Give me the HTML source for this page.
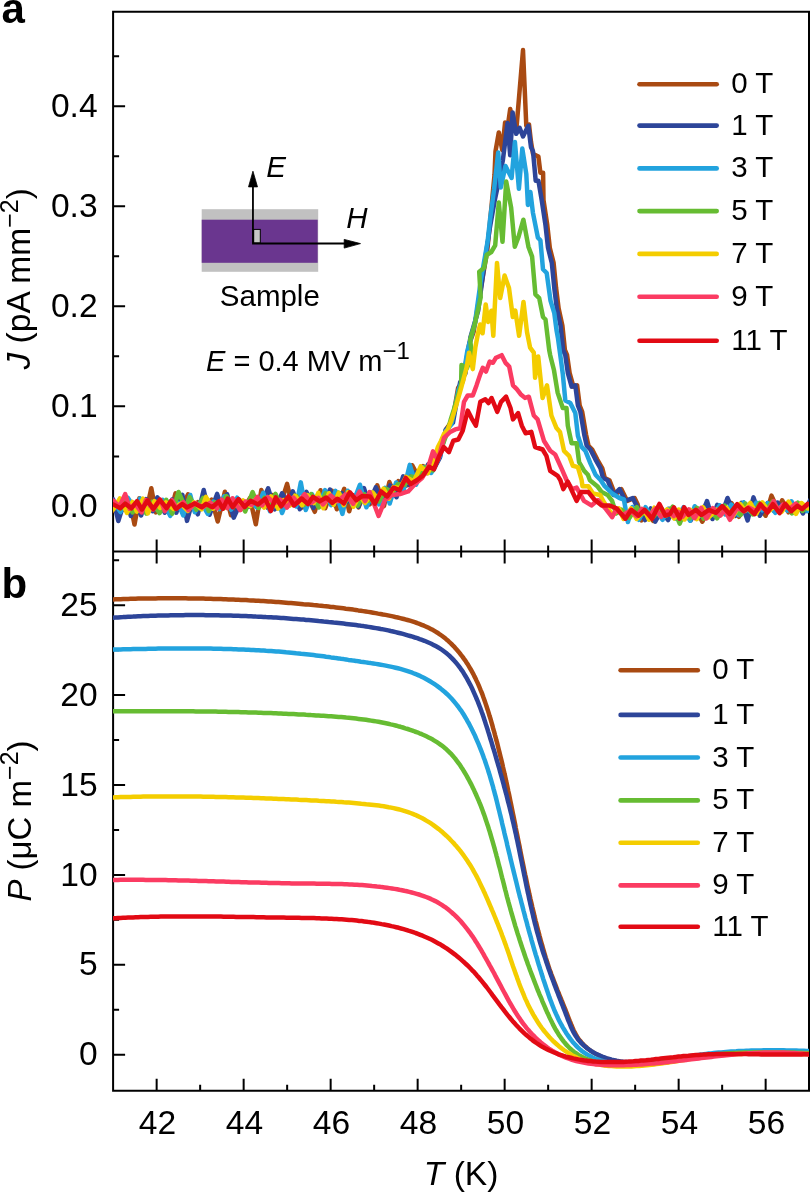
<!DOCTYPE html><html><head><meta charset="utf-8"><style>html,body{margin:0;padding:0;background:#fff;}svg{display:block;will-change:transform;}text{font-family:"Liberation Sans",sans-serif;}</style></head><body>
<svg width="812" height="1193" viewBox="0 0 812 1193">
<rect width="812" height="1193" fill="#fff"/>
<g stroke="#000" stroke-width="2" fill="none" stroke-linecap="butt">
<path d="M113.1 11.8H809V1090.7H113.1Z"/>
<path d="M113.1 551.4H809"/>
<path d="M113.1 506.40h12 M113.1 406.35h12 M113.1 306.30h12 M113.1 206.25h12 M113.1 106.20h12 M113.1 456.38h6 M113.1 356.32h6 M113.1 256.27h6 M113.1 156.23h6 M113.1 56.17h6 M113.1 1054.70h12 M113.1 964.80h12 M113.1 874.90h12 M113.1 785.00h12 M113.1 695.10h12 M113.1 605.20h12 M113.1 1009.75h6 M113.1 919.85h6 M113.1 829.95h6 M113.1 740.05h6 M113.1 650.15h6 M113.1 560.25h6 M156.65 551.4v-12 M156.65 551.4v12 M156.65 1090.7v-12 M200.15 551.4v-6 M200.15 551.4v6 M200.15 1090.7v-6 M243.65 551.4v-12 M243.65 551.4v12 M243.65 1090.7v-12 M287.15 551.4v-6 M287.15 551.4v6 M287.15 1090.7v-6 M330.65 551.4v-12 M330.65 551.4v12 M330.65 1090.7v-12 M374.15 551.4v-6 M374.15 551.4v6 M374.15 1090.7v-6 M417.65 551.4v-12 M417.65 551.4v12 M417.65 1090.7v-12 M461.15 551.4v-6 M461.15 551.4v6 M461.15 1090.7v-6 M504.65 551.4v-12 M504.65 551.4v12 M504.65 1090.7v-12 M548.15 551.4v-6 M548.15 551.4v6 M548.15 1090.7v-6 M591.65 551.4v-12 M591.65 551.4v12 M591.65 1090.7v-12 M635.15 551.4v-6 M635.15 551.4v6 M635.15 1090.7v-6 M678.65 551.4v-12 M678.65 551.4v12 M678.65 1090.7v-12 M722.15 551.4v-6 M722.15 551.4v6 M722.15 1090.7v-6 M765.65 551.4v-12 M765.65 551.4v12 M765.65 1090.7v-12"/>
</g>
<defs><clipPath id="cb"><rect x="113" y="551.4" width="696" height="539.3"/></clipPath><clipPath id="ca"><rect x="113" y="11.8" width="696" height="539.6"/></clipPath></defs>
<g clip-path="url(#cb)" fill="none" stroke-width="4.5" stroke-linejoin="round" stroke-linecap="round">
<path stroke="#A94A12" d="M113.2,599.4 115.6,599.3 118.1,599.3 120.6,599.2 123.1,599.1 125.6,599.0 128.1,598.9 130.6,598.8 133.1,598.8 135.6,598.7 138.1,598.6 140.6,598.6 143.1,598.5 145.6,598.5 148.1,598.5 150.6,598.4 153.2,598.4 155.7,598.4 158.2,598.3 160.7,598.3 163.2,598.3 165.7,598.3 168.2,598.3 170.7,598.3 173.2,598.3 175.7,598.3 178.2,598.3 180.7,598.3 183.2,598.3 185.8,598.3 188.3,598.4 190.8,598.4 193.3,598.4 195.8,598.5 198.3,598.5 200.8,598.6 203.3,598.6 205.8,598.7 208.3,598.7 210.8,598.8 213.3,598.9 215.8,598.9 218.4,599.0 220.9,599.1 223.4,599.2 225.9,599.3 228.4,599.4 230.9,599.5 233.4,599.6 235.9,599.7 238.4,599.8 240.9,599.9 243.4,600.0 245.9,600.1 248.4,600.3 250.9,600.4 253.4,600.5 255.9,600.7 258.4,600.8 260.9,601.0 263.4,601.1 265.9,601.3 268.4,601.5 270.9,601.6 273.4,601.8 276.0,602.0 278.5,602.1 281.0,602.3 283.5,602.5 286.0,602.7 288.5,602.9 291.0,603.1 293.5,603.3 296.0,603.5 298.5,603.7 301.0,603.9 303.5,604.2 305.9,604.4 308.4,604.6 310.9,604.8 313.4,605.1 315.9,605.3 318.4,605.6 320.9,605.8 323.4,606.1 325.9,606.3 328.4,606.6 330.9,606.9 333.4,607.1 335.9,607.4 338.4,607.7 340.9,608.0 343.4,608.3 345.8,608.7 348.3,609.0 350.8,609.3 353.3,609.6 355.8,610.0 358.3,610.4 360.7,610.7 363.2,611.1 365.7,611.5 368.2,611.9 370.7,612.3 373.1,612.7 375.6,613.1 378.1,613.6 380.5,614.0 383.0,614.5 385.5,614.9 387.9,615.4 390.4,615.9 392.8,616.4 395.3,617.0 397.7,617.5 400.2,618.1 402.6,618.7 405.0,619.3 407.5,620.0 409.9,620.7 412.3,621.4 414.7,622.2 417.0,623.0 419.4,623.9 421.7,624.8 424.0,625.7 426.3,626.7 428.6,627.8 430.8,628.9 433.1,630.1 435.2,631.4 437.4,632.7 439.4,634.1 441.5,635.5 443.5,637.0 445.5,638.6 447.4,640.2 449.2,641.9 451.1,643.6 452.8,645.4 454.6,647.2 456.2,649.1 457.9,651.0 459.5,652.9 461.0,654.9 462.6,656.9 464.0,658.9 465.5,660.9 466.8,663.0 468.2,665.1 469.5,667.3 470.8,669.5 472.0,671.6 473.2,673.8 474.3,676.1 475.5,678.3 476.5,680.6 477.6,682.9 478.6,685.1 479.6,687.5 480.5,689.8 481.5,692.1 482.4,694.4 483.2,696.8 484.1,699.2 484.9,701.5 485.7,703.9 486.5,706.3 487.3,708.7 488.1,711.1 488.8,713.4 489.5,715.8 490.3,718.2 491.0,720.7 491.7,723.1 492.4,725.5 493.0,727.9 493.7,730.3 494.4,732.7 495.0,735.1 495.7,737.6 496.3,740.0 497.0,742.4 497.6,744.8 498.2,747.3 498.8,749.7 499.4,752.1 500.0,754.6 500.6,757.0 501.2,759.4 501.8,761.9 502.4,764.3 502.9,766.8 503.5,769.2 504.1,771.7 504.6,774.1 505.2,776.6 505.7,779.0 506.2,781.4 506.8,783.9 507.3,786.3 507.8,788.8 508.3,791.3 508.9,793.7 509.4,796.2 509.9,798.6 510.4,801.1 510.9,803.5 511.4,806.0 511.9,808.4 512.4,810.9 512.9,813.4 513.4,815.8 513.9,818.3 514.4,820.7 514.9,823.2 515.4,825.7 515.8,828.1 516.3,830.6 516.8,833.0 517.3,835.5 517.8,838.0 518.3,840.4 518.8,842.9 519.3,845.3 519.8,847.8 520.2,850.3 520.7,852.7 521.2,855.2 521.7,857.6 522.2,860.1 522.7,862.5 523.2,865.0 523.7,867.5 524.2,869.9 524.7,872.4 525.2,874.8 525.8,877.3 526.3,879.7 526.8,882.2 527.3,884.6 527.8,887.1 528.4,889.5 528.9,892.0 529.4,894.4 530.0,896.9 530.5,899.3 531.1,901.8 531.7,904.2 532.2,906.7 532.8,909.1 533.4,911.6 534.0,914.0 534.5,916.4 535.1,918.9 535.7,921.3 536.4,923.7 537.0,926.2 537.6,928.6 538.2,931.0 538.9,933.4 539.5,935.9 540.2,938.3 540.8,940.7 541.5,943.1 542.2,945.5 542.9,948.0 543.6,950.4 544.3,952.8 545.0,955.2 545.7,957.6 546.5,960.0 547.2,962.3 548.0,964.7 548.8,967.1 549.6,969.5 550.5,971.8 551.3,974.2 552.2,976.6 553.1,978.9 554.0,981.2 554.9,983.6 555.8,985.9 556.7,988.3 557.6,990.6 558.6,992.9 559.5,995.2 560.5,997.6 561.4,999.9 562.4,1002.2 563.3,1004.5 564.2,1006.8 565.2,1009.2 566.1,1011.5 567.0,1013.8 567.9,1016.2 568.8,1018.5 569.7,1020.9 570.7,1023.2 571.6,1025.5 572.6,1027.8 573.6,1030.1 574.7,1032.4 575.9,1034.6 577.1,1036.7 578.5,1038.8 580.1,1040.8 581.7,1042.7 583.4,1044.6 585.2,1046.3 587.1,1048.0 589.0,1049.5 591.1,1051.0 593.2,1052.4 595.3,1053.6 597.5,1054.8 599.8,1055.9 602.1,1057.0 604.4,1057.9 606.8,1058.7 609.2,1059.5 611.6,1060.1 614.0,1060.7 616.5,1061.3 618.9,1061.7 621.4,1062.1 623.9,1062.4 626.4,1062.6 628.9,1062.8 631.4,1063.0 633.9,1063.0 636.4,1063.1 638.9,1063.1 641.4,1063.0 643.9,1062.9 646.4,1062.8 648.9,1062.6 651.5,1062.5 653.9,1062.2 656.4,1062.0 658.9,1061.7 661.4,1061.5 663.9,1061.2 666.4,1060.8 668.9,1060.5 671.4,1060.2 673.9,1059.8 676.3,1059.5 678.8,1059.1 681.3,1058.8 683.8,1058.4 686.3,1058.1 688.8,1057.7 691.2,1057.4 693.7,1057.0 696.2,1056.7 698.7,1056.4 701.2,1056.1 703.7,1055.8 706.2,1055.6 708.7,1055.4 711.2,1055.1 713.7,1054.9 716.2,1054.7 718.7,1054.6 721.2,1054.4 723.7,1054.3 726.2,1054.1 728.7,1054.0 731.2,1053.9 733.7,1053.8 736.2,1053.7 738.7,1053.6 741.2,1053.6 743.7,1053.5 746.2,1053.5 748.8,1053.4 751.3,1053.4 753.8,1053.4 756.3,1053.4 758.8,1053.4 761.3,1053.4 763.8,1053.4 766.3,1053.4 768.8,1053.4 771.3,1053.4 773.8,1053.4 776.3,1053.5 778.8,1053.5 781.4,1053.5 783.9,1053.6 786.4,1053.6 788.9,1053.6 791.4,1053.7 793.9,1053.7 796.4,1053.8 798.9,1053.8 801.4,1053.8 803.9,1053.9 806.4,1053.9 808.9,1053.9"/>
<path stroke="#2D4599" d="M113.2,617.7 115.5,617.5 118.0,617.4 120.5,617.2 123.0,617.1 125.5,616.9 128.0,616.8 130.5,616.7 133.0,616.6 135.5,616.4 138.1,616.3 140.6,616.2 143.1,616.1 145.6,616.0 148.1,615.9 150.6,615.8 153.1,615.8 155.6,615.7 158.1,615.6 160.6,615.5 163.1,615.5 165.7,615.4 168.2,615.4 170.7,615.3 173.2,615.3 175.7,615.2 178.2,615.2 180.7,615.2 183.2,615.2 185.7,615.1 188.2,615.1 190.8,615.1 193.3,615.1 195.8,615.1 198.3,615.1 200.8,615.1 203.3,615.1 205.8,615.2 208.3,615.2 210.8,615.2 213.3,615.2 215.9,615.3 218.4,615.3 220.9,615.4 223.4,615.4 225.9,615.5 228.4,615.5 230.9,615.6 233.4,615.7 235.9,615.8 238.4,615.8 241.0,615.9 243.5,616.0 246.0,616.1 248.5,616.2 251.0,616.3 253.5,616.4 256.0,616.6 258.5,616.7 261.0,616.8 263.5,616.9 266.0,617.1 268.5,617.2 271.0,617.3 273.5,617.5 276.1,617.6 278.6,617.8 281.1,618.0 283.6,618.1 286.1,618.3 288.6,618.5 291.1,618.7 293.6,618.9 296.1,619.0 298.6,619.2 301.1,619.4 303.6,619.6 306.1,619.9 308.6,620.1 311.1,620.3 313.6,620.5 316.1,620.7 318.6,621.0 321.1,621.2 323.6,621.5 326.1,621.7 328.6,622.0 331.1,622.2 333.6,622.5 336.1,622.7 338.6,623.0 341.1,623.3 343.6,623.6 346.1,623.9 348.6,624.2 351.0,624.5 353.5,624.8 356.0,625.1 358.5,625.4 361.0,625.8 363.5,626.1 366.0,626.5 368.5,626.9 370.9,627.3 373.4,627.7 375.9,628.1 378.4,628.5 380.8,629.0 383.3,629.4 385.7,629.9 388.2,630.4 390.7,631.0 393.1,631.5 395.6,632.1 398.0,632.7 400.4,633.3 402.9,633.9 405.3,634.6 407.7,635.3 410.1,636.0 412.5,636.7 414.9,637.5 417.3,638.2 419.7,639.1 422.0,639.9 424.4,640.8 426.7,641.8 429.0,642.8 431.3,643.8 433.5,644.9 435.7,646.1 437.9,647.3 440.1,648.6 442.2,650.0 444.2,651.5 446.2,653.0 448.1,654.6 450.0,656.3 451.8,658.1 453.5,659.9 455.2,661.7 456.8,663.6 458.4,665.6 459.9,667.6 461.3,669.7 462.8,671.7 464.1,673.9 465.4,676.0 466.7,678.2 467.9,680.4 469.1,682.6 470.3,684.8 471.4,687.0 472.5,689.3 473.5,691.6 474.5,693.9 475.5,696.2 476.5,698.5 477.5,700.8 478.4,703.1 479.3,705.5 480.2,707.8 481.1,710.2 481.9,712.5 482.8,714.9 483.6,717.3 484.4,719.7 485.2,722.1 485.9,724.4 486.7,726.8 487.5,729.2 488.2,731.6 489.0,734.0 489.7,736.4 490.4,738.8 491.2,741.2 491.9,743.6 492.6,746.0 493.3,748.4 494.1,750.8 494.8,753.2 495.5,755.6 496.2,758.1 496.9,760.5 497.6,762.9 498.3,765.3 499.0,767.7 499.7,770.1 500.3,772.5 501.0,775.0 501.7,777.4 502.4,779.8 503.0,782.2 503.7,784.6 504.3,787.1 505.0,789.5 505.6,791.9 506.3,794.3 506.9,796.8 507.5,799.2 508.1,801.6 508.8,804.1 509.4,806.5 510.0,808.9 510.6,811.4 511.2,813.8 511.8,816.3 512.3,818.7 512.9,821.1 513.5,823.6 514.0,826.0 514.6,828.5 515.1,830.9 515.7,833.4 516.2,835.8 516.7,838.3 517.3,840.7 517.8,843.2 518.3,845.7 518.8,848.1 519.3,850.6 519.8,853.0 520.3,855.5 520.8,858.0 521.3,860.4 521.8,862.9 522.3,865.3 522.8,867.8 523.3,870.3 523.8,872.7 524.3,875.2 524.8,877.6 525.3,880.1 525.8,882.6 526.3,885.0 526.8,887.5 527.3,889.9 527.8,892.4 528.4,894.8 528.9,897.3 529.4,899.8 530.0,902.2 530.5,904.7 531.1,907.1 531.6,909.5 532.2,912.0 532.8,914.4 533.3,916.9 533.9,919.3 534.5,921.8 535.1,924.2 535.8,926.6 536.4,929.1 537.0,931.5 537.7,933.9 538.4,936.3 539.0,938.7 539.7,941.2 540.4,943.6 541.2,946.0 541.9,948.4 542.6,950.8 543.4,953.2 544.2,955.5 545.0,957.9 545.8,960.3 546.6,962.7 547.4,965.1 548.2,967.4 549.0,969.8 549.9,972.2 550.7,974.5 551.6,976.9 552.5,979.2 553.4,981.6 554.2,983.9 555.1,986.3 556.0,988.6 556.9,991.0 557.8,993.3 558.7,995.7 559.6,998.0 560.5,1000.3 561.4,1002.7 562.4,1005.0 563.3,1007.4 564.2,1009.7 565.1,1012.0 566.0,1014.4 566.9,1016.7 567.8,1019.1 568.7,1021.4 569.7,1023.7 570.6,1026.0 571.6,1028.3 572.7,1030.6 573.9,1032.8 575.1,1035.0 576.5,1037.1 577.9,1039.2 579.5,1041.1 581.2,1043.0 583.0,1044.7 584.9,1046.4 586.8,1048.0 588.9,1049.5 590.9,1050.9 593.1,1052.2 595.3,1053.4 597.5,1054.5 599.8,1055.6 602.1,1056.6 604.4,1057.4 606.8,1058.3 609.2,1059.0 611.6,1059.7 614.1,1060.2 616.5,1060.8 619.0,1061.2 621.5,1061.6 624.0,1061.9 626.5,1062.1 629.0,1062.3 631.5,1062.4 634.0,1062.5 636.5,1062.6 639.0,1062.5 641.5,1062.5 644.0,1062.4 646.5,1062.3 649.1,1062.1 651.6,1061.9 654.1,1061.7 656.6,1061.4 659.0,1061.1 661.5,1060.8 664.0,1060.5 666.5,1060.2 669.0,1059.9 671.5,1059.5 674.0,1059.2 676.5,1058.8 678.9,1058.4 681.4,1058.1 683.9,1057.7 686.4,1057.3 688.9,1057.0 691.4,1056.6 693.9,1056.3 696.3,1056.0 698.8,1055.7 701.3,1055.4 703.8,1055.1 706.3,1054.8 708.8,1054.6 711.3,1054.4 713.8,1054.2 716.3,1054.0 718.8,1053.8 721.3,1053.7 723.8,1053.6 726.4,1053.5 728.9,1053.3 731.4,1053.3 733.9,1053.2 736.4,1053.1 738.9,1053.1 741.4,1053.0 743.9,1053.0 746.4,1053.0 748.9,1053.0 751.5,1052.9 754.0,1052.9 756.5,1053.0 759.0,1053.0 761.5,1053.0 764.0,1053.0 766.5,1053.0 769.0,1053.1 771.5,1053.1 774.0,1053.1 776.6,1053.2 779.1,1053.2 781.6,1053.2 784.1,1053.3 786.6,1053.3 789.1,1053.3 791.6,1053.3 794.1,1053.3 796.6,1053.4 799.1,1053.4 801.7,1053.4 804.2,1053.4 806.7,1053.4 809.0,1053.3"/>
<path stroke="#22A3DE" d="M113.2,649.6 115.5,649.5 118.0,649.5 120.6,649.4 123.1,649.3 125.6,649.3 128.1,649.2 130.6,649.2 133.1,649.1 135.6,649.1 138.1,649.0 140.6,648.9 143.1,648.9 145.7,648.9 148.2,648.8 150.7,648.8 153.2,648.7 155.7,648.7 158.2,648.6 160.7,648.6 163.2,648.6 165.7,648.6 168.3,648.5 170.8,648.5 173.3,648.5 175.8,648.5 178.3,648.5 180.8,648.5 183.3,648.4 185.8,648.4 188.3,648.4 190.8,648.5 193.4,648.5 195.9,648.5 198.4,648.5 200.9,648.5 203.4,648.5 205.9,648.6 208.4,648.6 210.9,648.6 213.4,648.7 216.0,648.7 218.5,648.8 221.0,648.8 223.5,648.9 226.0,649.0 228.5,649.0 231.0,649.1 233.5,649.2 236.0,649.3 238.5,649.4 241.0,649.5 243.6,649.6 246.1,649.7 248.6,649.8 251.1,649.9 253.6,650.0 256.1,650.2 258.6,650.3 261.1,650.5 263.6,650.6 266.1,650.8 268.6,650.9 271.1,651.1 273.6,651.3 276.1,651.5 278.6,651.6 281.1,651.8 283.6,652.0 286.1,652.3 288.7,652.5 291.2,652.7 293.7,652.9 296.2,653.2 298.6,653.4 301.1,653.7 303.6,653.9 306.1,654.2 308.6,654.5 311.1,654.8 313.6,655.1 316.1,655.4 318.6,655.7 321.1,656.0 323.6,656.3 326.1,656.7 328.6,657.0 331.0,657.4 333.5,657.7 336.0,658.1 338.5,658.4 341.0,658.8 343.5,659.1 346.0,659.5 348.4,659.9 350.9,660.2 353.4,660.6 355.9,660.9 358.4,661.3 360.9,661.7 363.3,662.0 365.8,662.4 368.3,662.8 370.8,663.1 373.3,663.5 375.8,663.9 378.2,664.3 380.7,664.7 383.2,665.1 385.7,665.6 388.1,666.1 390.6,666.6 393.0,667.1 395.5,667.7 397.9,668.3 400.4,668.9 402.8,669.6 405.2,670.3 407.6,671.1 409.9,671.9 412.3,672.7 414.6,673.7 417.0,674.6 419.3,675.6 421.5,676.7 423.8,677.8 426.0,679.0 428.2,680.2 430.4,681.5 432.5,682.8 434.6,684.2 436.7,685.6 438.7,687.1 440.7,688.6 442.6,690.2 444.5,691.8 446.4,693.5 448.2,695.2 450.0,697.0 451.7,698.8 453.4,700.7 455.0,702.6 456.6,704.6 458.1,706.5 459.6,708.6 461.1,710.6 462.5,712.7 463.8,714.8 465.1,717.0 466.4,719.1 467.6,721.3 468.9,723.5 470.0,725.7 471.2,728.0 472.3,730.2 473.4,732.5 474.5,734.7 475.5,737.0 476.5,739.3 477.5,741.6 478.5,743.9 479.5,746.3 480.4,748.6 481.3,750.9 482.2,753.3 483.1,755.6 483.9,758.0 484.8,760.3 485.6,762.7 486.4,765.1 487.2,767.5 488.0,769.9 488.7,772.3 489.5,774.7 490.2,777.1 490.9,779.5 491.6,781.9 492.3,784.3 493.0,786.7 493.6,789.1 494.3,791.6 494.9,794.0 495.6,796.4 496.2,798.9 496.8,801.3 497.4,803.7 498.0,806.2 498.6,808.6 499.2,811.0 499.8,813.5 500.4,815.9 501.0,818.4 501.6,820.8 502.1,823.2 502.7,825.7 503.3,828.1 503.9,830.6 504.4,833.0 505.0,835.5 505.6,837.9 506.2,840.3 506.8,842.8 507.3,845.2 507.9,847.7 508.5,850.1 509.1,852.6 509.7,855.0 510.2,857.4 510.8,859.9 511.4,862.3 512.0,864.8 512.6,867.2 513.2,869.6 513.8,872.1 514.4,874.5 515.0,877.0 515.6,879.4 516.2,881.8 516.8,884.3 517.4,886.7 518.0,889.2 518.6,891.6 519.2,894.0 519.8,896.5 520.5,898.9 521.1,901.3 521.7,903.7 522.4,906.2 523.0,908.6 523.6,911.0 524.3,913.5 524.9,915.9 525.5,918.3 526.2,920.7 526.9,923.2 527.5,925.6 528.2,928.0 528.8,930.4 529.5,932.9 530.2,935.3 530.9,937.7 531.5,940.1 532.2,942.5 532.9,944.9 533.6,947.3 534.3,949.8 535.0,952.2 535.7,954.6 536.5,957.0 537.2,959.4 537.9,961.8 538.6,964.2 539.4,966.6 540.1,969.0 540.9,971.4 541.6,973.8 542.4,976.2 543.1,978.6 543.9,981.0 544.7,983.3 545.5,985.7 546.3,988.1 547.1,990.5 547.9,992.9 548.7,995.2 549.5,997.6 550.4,1000.0 551.3,1002.3 552.2,1004.7 553.1,1007.0 554.0,1009.3 555.0,1011.6 556.0,1013.9 557.1,1016.2 558.1,1018.5 559.2,1020.7 560.4,1023.0 561.6,1025.2 562.8,1027.4 564.1,1029.5 565.4,1031.7 566.7,1033.8 568.2,1035.9 569.6,1037.9 571.1,1039.9 572.7,1041.9 574.4,1043.8 576.1,1045.6 577.8,1047.4 579.7,1049.1 581.6,1050.7 583.6,1052.2 585.7,1053.6 587.8,1054.9 590.0,1056.1 592.3,1057.3 594.6,1058.3 596.9,1059.2 599.3,1060.0 601.7,1060.8 604.1,1061.4 606.5,1062.0 609.0,1062.5 611.5,1062.9 614.0,1063.2 616.5,1063.4 619.0,1063.6 621.5,1063.8 624.0,1063.9 626.5,1063.9 629.0,1063.9 631.5,1063.8 634.0,1063.7 636.5,1063.6 639.0,1063.4 641.5,1063.2 644.0,1063.0 646.5,1062.7 649.0,1062.4 651.5,1062.1 654.0,1061.8 656.5,1061.5 659.0,1061.1 661.5,1060.7 664.0,1060.4 666.4,1060.0 668.9,1059.6 671.4,1059.2 673.9,1058.8 676.4,1058.4 678.8,1058.0 681.3,1057.6 683.8,1057.2 686.3,1056.8 688.7,1056.4 691.2,1056.0 693.7,1055.6 696.2,1055.2 698.7,1054.9 701.2,1054.6 703.7,1054.2 706.2,1053.9 708.6,1053.6 711.1,1053.4 713.6,1053.1 716.1,1052.8 718.6,1052.6 721.1,1052.4 723.6,1052.2 726.1,1052.0 728.6,1051.8 731.1,1051.6 733.7,1051.4 736.2,1051.3 738.7,1051.1 741.2,1051.0 743.7,1050.9 746.2,1050.8 748.7,1050.7 751.2,1050.6 753.7,1050.5 756.2,1050.5 758.7,1050.4 761.2,1050.4 763.8,1050.3 766.3,1050.3 768.8,1050.3 771.3,1050.3 773.8,1050.3 776.3,1050.3 778.8,1050.3 781.3,1050.3 783.8,1050.3 786.4,1050.4 788.9,1050.4 791.4,1050.5 793.9,1050.5 796.4,1050.6 798.9,1050.7 801.4,1050.8 803.9,1050.8 806.4,1050.9 808.9,1051.0"/>
<path stroke="#66BC32" d="M113.2,711.3 115.5,711.3 118.0,711.3 120.5,711.3 123.0,711.2 125.5,711.2 128.0,711.2 130.5,711.2 133.0,711.2 135.5,711.2 138.0,711.2 140.6,711.2 143.1,711.2 145.6,711.2 148.1,711.2 150.6,711.2 153.1,711.2 155.6,711.2 158.1,711.2 160.6,711.2 163.1,711.2 165.6,711.2 168.2,711.2 170.7,711.2 173.2,711.2 175.7,711.2 178.2,711.2 180.7,711.2 183.2,711.3 185.7,711.3 188.2,711.3 190.7,711.3 193.2,711.3 195.8,711.4 198.3,711.4 200.8,711.4 203.3,711.5 205.8,711.5 208.3,711.5 210.8,711.6 213.3,711.6 215.8,711.6 218.3,711.7 220.8,711.7 223.4,711.8 225.9,711.8 228.4,711.9 230.9,711.9 233.4,712.0 235.9,712.0 238.4,712.1 240.9,712.2 243.4,712.2 245.9,712.3 248.4,712.4 251.0,712.5 253.5,712.5 256.0,712.6 258.5,712.7 261.0,712.8 263.5,712.9 266.0,712.9 268.5,713.0 271.0,713.1 273.5,713.2 276.0,713.3 278.5,713.4 281.0,713.5 283.5,713.7 286.1,713.8 288.6,713.9 291.1,714.0 293.6,714.1 296.1,714.2 298.6,714.4 301.1,714.5 303.6,714.6 306.1,714.8 308.6,714.9 311.1,715.1 313.6,715.2 316.1,715.4 318.6,715.5 321.1,715.7 323.6,715.8 326.1,716.0 328.6,716.2 331.1,716.3 333.6,716.5 336.2,716.7 338.7,716.9 341.2,717.1 343.7,717.3 346.2,717.6 348.7,717.8 351.1,718.0 353.6,718.3 356.1,718.6 358.6,718.9 361.1,719.2 363.6,719.5 366.1,719.8 368.6,720.2 371.1,720.6 373.5,721.0 376.0,721.4 378.5,721.8 380.9,722.3 383.4,722.8 385.9,723.3 388.3,723.8 390.8,724.4 393.2,724.9 395.6,725.5 398.1,726.2 400.5,726.8 402.9,727.5 405.3,728.3 407.7,729.0 410.1,729.8 412.5,730.6 414.8,731.5 417.2,732.3 419.5,733.3 421.8,734.2 424.1,735.2 426.4,736.3 428.6,737.4 430.9,738.6 433.1,739.8 435.2,741.1 437.3,742.4 439.4,743.8 441.5,745.3 443.4,746.8 445.4,748.4 447.2,750.1 449.0,751.8 450.8,753.6 452.5,755.5 454.1,757.4 455.7,759.3 457.2,761.3 458.7,763.3 460.2,765.4 461.5,767.5 462.9,769.6 464.2,771.7 465.5,773.9 466.8,776.1 468.0,778.3 469.2,780.5 470.3,782.7 471.5,784.9 472.6,787.2 473.7,789.4 474.7,791.7 475.8,794.0 476.8,796.3 477.8,798.6 478.8,800.9 479.7,803.2 480.7,805.5 481.6,807.9 482.5,810.2 483.3,812.6 484.2,814.9 485.0,817.3 485.8,819.7 486.6,822.1 487.4,824.4 488.2,826.8 488.9,829.2 489.7,831.6 490.4,834.0 491.1,836.4 491.8,838.8 492.5,841.2 493.2,843.7 493.9,846.1 494.6,848.5 495.2,850.9 495.9,853.3 496.5,855.8 497.2,858.2 497.8,860.6 498.4,863.1 499.0,865.5 499.7,867.9 500.3,870.3 500.9,872.8 501.5,875.2 502.1,877.6 502.8,880.1 503.4,882.5 504.0,884.9 504.6,887.4 505.2,889.8 505.9,892.2 506.5,894.7 507.1,897.1 507.8,899.5 508.4,901.9 509.1,904.3 509.8,906.8 510.4,909.2 511.1,911.6 511.8,914.0 512.5,916.4 513.2,918.8 513.9,921.2 514.6,923.6 515.3,926.1 516.1,928.5 516.8,930.9 517.5,933.2 518.3,935.6 519.1,938.0 519.8,940.4 520.6,942.8 521.4,945.2 522.2,947.6 523.0,950.0 523.8,952.3 524.6,954.7 525.4,957.1 526.2,959.4 527.1,961.8 527.9,964.2 528.8,966.5 529.6,968.9 530.5,971.2 531.4,973.6 532.3,975.9 533.2,978.3 534.1,980.6 535.0,983.0 535.9,985.3 536.8,987.6 537.7,990.0 538.7,992.3 539.6,994.6 540.6,996.9 541.6,999.2 542.5,1001.6 543.5,1003.9 544.5,1006.2 545.5,1008.5 546.5,1010.8 547.5,1013.1 548.6,1015.3 549.6,1017.6 550.7,1019.9 551.8,1022.1 552.9,1024.4 554.1,1026.6 555.3,1028.8 556.6,1031.0 557.9,1033.1 559.2,1035.3 560.6,1037.3 562.1,1039.4 563.6,1041.4 565.2,1043.3 566.8,1045.2 568.6,1047.0 570.4,1048.8 572.3,1050.4 574.2,1052.0 576.3,1053.4 578.4,1054.8 580.5,1056.1 582.7,1057.2 585.0,1058.3 587.3,1059.3 589.7,1060.2 592.0,1061.0 594.4,1061.8 596.8,1062.4 599.3,1063.0 601.7,1063.6 604.2,1064.0 606.7,1064.4 609.2,1064.8 611.7,1065.1 614.2,1065.3 616.7,1065.5 619.2,1065.6 621.7,1065.7 624.2,1065.8 626.7,1065.8 629.2,1065.7 631.7,1065.6 634.2,1065.5 636.7,1065.4 639.2,1065.2 641.7,1065.0 644.2,1064.7 646.7,1064.5 649.2,1064.2 651.7,1063.9 654.2,1063.5 656.7,1063.2 659.1,1062.8 661.6,1062.4 664.1,1062.0 666.6,1061.6 669.1,1061.2 671.5,1060.8 674.0,1060.4 676.5,1059.9 678.9,1059.5 681.4,1059.1 683.9,1058.7 686.4,1058.3 688.8,1057.9 691.3,1057.5 693.8,1057.1 696.3,1056.7 698.8,1056.3 701.2,1056.0 703.7,1055.7 706.2,1055.4 708.7,1055.1 711.2,1054.8 713.7,1054.5 716.2,1054.3 718.7,1054.1 721.2,1053.9 723.7,1053.7 726.2,1053.5 728.7,1053.3 731.2,1053.2 733.7,1053.0 736.2,1052.9 738.7,1052.8 741.2,1052.7 743.8,1052.6 746.3,1052.5 748.8,1052.4 751.3,1052.4 753.8,1052.3 756.3,1052.3 758.8,1052.3 761.3,1052.2 763.8,1052.2 766.3,1052.2 768.8,1052.2 771.4,1052.2 773.9,1052.3 776.4,1052.3 778.9,1052.3 781.4,1052.3 783.9,1052.4 786.4,1052.4 788.9,1052.5 791.4,1052.5 793.9,1052.6 796.4,1052.7 798.9,1052.7 801.5,1052.8 804.0,1052.9 806.5,1053.0 809.0,1053.0"/>
<path stroke="#F4CD00" d="M113.2,797.4 115.5,797.3 118.0,797.2 120.5,797.1 123.0,797.1 125.5,797.0 128.0,796.9 130.6,796.9 133.1,796.8 135.6,796.8 138.1,796.7 140.6,796.7 143.1,796.6 145.6,796.6 148.1,796.6 150.6,796.5 153.1,796.5 155.7,796.5 158.2,796.5 160.7,796.5 163.2,796.4 165.7,796.4 168.2,796.4 170.7,796.4 173.2,796.4 175.7,796.4 178.2,796.4 180.8,796.4 183.3,796.4 185.8,796.5 188.3,796.5 190.8,796.5 193.3,796.5 195.8,796.6 198.3,796.6 200.8,796.6 203.3,796.7 205.9,796.7 208.4,796.7 210.9,796.8 213.4,796.8 215.9,796.9 218.4,796.9 220.9,797.0 223.4,797.0 225.9,797.1 228.4,797.2 231.0,797.2 233.5,797.3 236.0,797.4 238.5,797.4 241.0,797.5 243.5,797.6 246.0,797.7 248.5,797.7 251.0,797.8 253.5,797.9 256.0,798.0 258.5,798.1 261.1,798.2 263.6,798.3 266.1,798.4 268.6,798.5 271.1,798.6 273.6,798.7 276.1,798.8 278.6,798.9 281.1,799.0 283.6,799.1 286.1,799.2 288.6,799.3 291.2,799.4 293.7,799.5 296.2,799.6 298.7,799.8 301.2,799.9 303.7,800.0 306.2,800.1 308.7,800.2 311.2,800.4 313.7,800.5 316.2,800.6 318.7,800.8 321.2,800.9 323.7,801.0 326.3,801.2 328.8,801.3 331.3,801.4 333.8,801.6 336.3,801.8 338.8,801.9 341.3,802.1 343.8,802.3 346.3,802.4 348.8,802.6 351.3,802.8 353.8,803.0 356.3,803.2 358.8,803.4 361.3,803.7 363.8,803.9 366.3,804.2 368.8,804.4 371.3,804.7 373.8,805.0 376.3,805.3 378.8,805.6 381.3,805.9 383.7,806.3 386.2,806.7 388.7,807.2 391.2,807.6 393.6,808.1 396.1,808.7 398.5,809.3 400.9,809.9 403.3,810.6 405.7,811.3 408.1,812.1 410.5,813.0 412.8,813.9 415.1,814.8 417.4,815.9 419.7,817.0 421.9,818.1 424.1,819.3 426.3,820.6 428.5,821.9 430.6,823.2 432.7,824.6 434.7,826.1 436.7,827.6 438.7,829.1 440.7,830.7 442.6,832.3 444.4,834.0 446.3,835.7 448.1,837.4 449.9,839.2 451.6,841.0 453.4,842.8 455.0,844.7 456.7,846.6 458.3,848.5 459.9,850.4 461.4,852.4 462.9,854.4 464.4,856.5 465.8,858.5 467.2,860.6 468.6,862.7 470.0,864.8 471.3,866.9 472.6,869.1 473.8,871.3 475.0,873.5 476.2,875.7 477.4,877.9 478.5,880.1 479.6,882.4 480.7,884.7 481.8,886.9 482.9,889.2 483.9,891.5 485.0,893.8 486.0,896.1 487.0,898.4 488.0,900.7 489.0,903.0 490.0,905.3 491.0,907.6 491.9,909.9 492.9,912.2 493.9,914.5 494.8,916.8 495.8,919.2 496.7,921.5 497.7,923.8 498.6,926.1 499.5,928.5 500.5,930.8 501.4,933.2 502.2,935.5 503.1,937.9 504.0,940.2 504.8,942.6 505.7,944.9 506.5,947.3 507.4,949.7 508.2,952.0 509.0,954.4 509.8,956.8 510.6,959.2 511.4,961.5 512.2,963.9 513.0,966.3 513.9,968.7 514.7,971.0 515.5,973.4 516.4,975.8 517.2,978.1 518.1,980.5 518.9,982.8 519.8,985.2 520.7,987.5 521.7,989.9 522.6,992.2 523.6,994.5 524.5,996.8 525.5,999.1 526.6,1001.4 527.6,1003.7 528.7,1005.9 529.9,1008.2 531.0,1010.4 532.2,1012.6 533.4,1014.8 534.7,1017.0 536.0,1019.2 537.3,1021.3 538.7,1023.4 540.1,1025.5 541.5,1027.5 543.0,1029.5 544.6,1031.5 546.2,1033.4 547.8,1035.3 549.5,1037.2 551.2,1039.0 553.0,1040.8 554.8,1042.5 556.7,1044.2 558.6,1045.9 560.5,1047.4 562.5,1049.0 564.5,1050.5 566.6,1051.9 568.7,1053.2 570.9,1054.5 573.0,1055.8 575.3,1056.9 577.5,1058.0 579.8,1059.0 582.2,1060.0 584.5,1060.8 586.9,1061.6 589.3,1062.4 591.7,1063.0 594.2,1063.6 596.6,1064.1 599.1,1064.6 601.6,1065.0 604.0,1065.4 606.5,1065.7 609.0,1065.9 611.5,1066.1 614.0,1066.3 616.5,1066.4 619.1,1066.5 621.6,1066.6 624.1,1066.6 626.6,1066.5 629.1,1066.5 631.6,1066.4 634.1,1066.3 636.6,1066.1 639.1,1066.0 641.6,1065.8 644.1,1065.5 646.6,1065.3 649.1,1065.0 651.6,1064.7 654.1,1064.4 656.6,1064.1 659.1,1063.8 661.6,1063.5 664.0,1063.1 666.5,1062.7 669.0,1062.4 671.5,1062.0 674.0,1061.6 676.5,1061.2 678.9,1060.8 681.4,1060.4 683.9,1060.0 686.4,1059.6 688.9,1059.2 691.3,1058.8 693.8,1058.5 696.3,1058.1 698.8,1057.7 701.3,1057.4 703.8,1057.0 706.2,1056.7 708.7,1056.4 711.2,1056.1 713.7,1055.8 716.2,1055.6 718.7,1055.3 721.2,1055.1 723.7,1054.9 726.2,1054.7 728.7,1054.5 731.2,1054.4 733.7,1054.2 736.2,1054.1 738.7,1054.0 741.3,1053.9 743.8,1053.8 746.3,1053.7 748.8,1053.6 751.3,1053.6 753.8,1053.5 756.3,1053.5 758.8,1053.4 761.3,1053.4 763.8,1053.4 766.4,1053.4 768.9,1053.4 771.4,1053.4 773.9,1053.4 776.4,1053.4 778.9,1053.5 781.4,1053.5 783.9,1053.5 786.4,1053.6 788.9,1053.6 791.5,1053.7 794.0,1053.7 796.5,1053.8 799.0,1053.8 801.5,1053.9 804.0,1053.9 806.5,1054.0 809.0,1054.1"/>
<path stroke="#FB3B62" d="M113.2,879.9 115.5,879.9 118.0,879.9 120.5,879.8 123.1,879.8 125.6,879.8 128.1,879.8 130.6,879.8 133.1,879.8 135.6,879.8 138.1,879.8 140.7,879.8 143.2,879.8 145.7,879.9 148.2,879.9 150.7,879.9 153.2,879.9 155.8,880.0 158.3,880.0 160.8,880.1 163.3,880.1 165.8,880.1 168.3,880.2 170.9,880.2 173.4,880.3 175.9,880.3 178.4,880.4 180.9,880.5 183.4,880.5 185.9,880.6 188.5,880.6 191.0,880.7 193.5,880.8 196.0,880.8 198.5,880.9 201.0,881.0 203.6,881.0 206.1,881.1 208.6,881.2 211.1,881.3 213.6,881.3 216.1,881.4 218.6,881.5 221.2,881.6 223.7,881.6 226.2,881.7 228.7,881.8 231.2,881.9 233.7,881.9 236.2,882.0 238.8,882.1 241.3,882.2 243.8,882.2 246.3,882.3 248.8,882.4 251.3,882.4 253.8,882.5 256.4,882.6 258.9,882.6 261.4,882.7 263.9,882.8 266.4,882.8 268.9,882.9 271.5,883.0 274.0,883.0 276.5,883.1 279.0,883.1 281.5,883.2 284.0,883.2 286.5,883.3 289.1,883.3 291.6,883.4 294.1,883.4 296.6,883.4 299.1,883.5 301.6,883.5 304.2,883.5 306.7,883.6 309.2,883.6 311.7,883.6 314.2,883.6 316.7,883.7 319.3,883.7 321.8,883.7 324.3,883.8 326.8,883.8 329.3,883.8 331.8,883.9 334.3,883.9 336.9,884.0 339.4,884.1 341.9,884.1 344.4,884.2 346.9,884.3 349.4,884.4 352.0,884.5 354.5,884.7 357.0,884.8 359.5,885.0 362.0,885.1 364.5,885.3 367.0,885.5 369.5,885.7 372.0,886.0 374.5,886.2 377.0,886.5 379.5,886.7 382.0,887.1 384.5,887.4 387.0,887.7 389.5,888.1 392.0,888.5 394.5,888.9 397.0,889.3 399.4,889.8 401.9,890.2 404.4,890.8 406.8,891.3 409.3,891.9 411.7,892.5 414.1,893.1 416.6,893.8 419.0,894.5 421.4,895.3 423.7,896.1 426.1,897.0 428.4,897.9 430.8,898.9 433.0,900.0 435.3,901.1 437.5,902.3 439.7,903.6 441.8,904.9 443.9,906.3 446.0,907.7 448.0,909.3 449.9,910.9 451.8,912.5 453.7,914.2 455.5,915.9 457.3,917.7 459.1,919.5 460.8,921.3 462.4,923.2 464.0,925.1 465.6,927.1 467.2,929.1 468.7,931.1 470.2,933.1 471.6,935.2 473.1,937.2 474.5,939.3 475.8,941.5 477.2,943.6 478.5,945.7 479.8,947.9 481.1,950.0 482.3,952.2 483.6,954.4 484.8,956.6 486.1,958.8 487.3,961.0 488.5,963.2 489.7,965.4 491.0,967.6 492.2,969.8 493.4,972.0 494.6,974.2 495.7,976.4 496.9,978.6 498.1,980.9 499.3,983.1 500.5,985.3 501.6,987.5 502.8,989.8 504.0,992.0 505.2,994.2 506.4,996.4 507.6,998.6 508.8,1000.8 510.0,1003.0 511.3,1005.2 512.6,1007.4 513.8,1009.5 515.2,1011.7 516.5,1013.8 517.9,1015.9 519.3,1018.0 520.7,1020.1 522.1,1022.1 523.6,1024.2 525.2,1026.2 526.7,1028.1 528.4,1030.1 530.0,1031.9 531.7,1033.8 533.5,1035.6 535.2,1037.4 537.1,1039.1 538.9,1040.8 540.8,1042.5 542.8,1044.1 544.8,1045.6 546.8,1047.1 548.8,1048.5 550.9,1049.9 553.1,1051.3 555.3,1052.5 557.5,1053.7 559.7,1054.9 562.0,1055.9 564.3,1056.9 566.6,1057.9 569.0,1058.7 571.4,1059.5 573.8,1060.3 576.2,1061.0 578.6,1061.6 581.1,1062.1 583.6,1062.6 586.0,1063.1 588.5,1063.5 591.0,1063.8 593.5,1064.1 596.0,1064.4 598.5,1064.6 601.0,1064.8 603.5,1065.0 606.1,1065.1 608.6,1065.2 611.1,1065.2 613.6,1065.3 616.1,1065.3 618.6,1065.3 621.1,1065.2 623.7,1065.2 626.2,1065.1 628.7,1065.0 631.2,1064.9 633.7,1064.8 636.2,1064.7 638.7,1064.5 641.3,1064.4 643.8,1064.2 646.3,1064.0 648.8,1063.8 651.3,1063.6 653.8,1063.4 656.3,1063.2 658.8,1062.9 661.3,1062.7 663.8,1062.4 666.3,1062.2 668.8,1061.9 671.3,1061.6 673.8,1061.4 676.3,1061.1 678.8,1060.8 681.3,1060.5 683.8,1060.2 686.3,1059.9 688.8,1059.6 691.3,1059.3 693.8,1059.0 696.3,1058.7 698.8,1058.4 701.3,1058.1 703.8,1057.8 706.3,1057.5 708.8,1057.2 711.3,1056.9 713.8,1056.6 716.3,1056.3 718.8,1056.1 721.3,1055.8 723.8,1055.5 726.3,1055.3 728.8,1055.0 731.3,1054.8 733.8,1054.5 736.3,1054.3 738.8,1054.1 741.3,1053.9 743.8,1053.7 746.4,1053.5 748.9,1053.3 751.4,1053.2 753.9,1053.0 756.4,1052.9 758.9,1052.8 761.4,1052.7 763.9,1052.6 766.5,1052.5 769.0,1052.5 771.5,1052.5 774.0,1052.4 776.5,1052.4 779.0,1052.5 781.6,1052.5 784.1,1052.6 786.6,1052.7 789.1,1052.8 791.6,1052.9 794.1,1053.0 796.6,1053.2 799.1,1053.4 801.6,1053.6 804.2,1053.8 806.7,1054.1 809.0,1054.4"/>
<path stroke="#E20A14" d="M113.2,918.3 115.5,918.2 118.0,918.0 120.5,917.9 123.0,917.8 125.5,917.7 128.0,917.6 130.6,917.5 133.1,917.4 135.6,917.3 138.1,917.2 140.6,917.1 143.1,917.0 145.6,917.0 148.1,916.9 150.7,916.8 153.2,916.8 155.7,916.7 158.2,916.7 160.7,916.6 163.2,916.6 165.7,916.6 168.3,916.5 170.8,916.5 173.3,916.5 175.8,916.5 178.3,916.5 180.8,916.4 183.3,916.4 185.8,916.4 188.4,916.4 190.9,916.4 193.4,916.4 195.9,916.4 198.4,916.5 200.9,916.5 203.4,916.5 206.0,916.5 208.5,916.5 211.0,916.5 213.5,916.6 216.0,916.6 218.5,916.6 221.0,916.6 223.6,916.7 226.1,916.7 228.6,916.7 231.1,916.8 233.6,916.8 236.1,916.9 238.6,916.9 241.1,916.9 243.7,917.0 246.2,917.0 248.7,917.1 251.2,917.1 253.7,917.1 256.2,917.2 258.7,917.2 261.3,917.3 263.8,917.3 266.3,917.4 268.8,917.4 271.3,917.4 273.8,917.5 276.3,917.5 278.8,917.6 281.4,917.6 283.9,917.6 286.4,917.7 288.9,917.7 291.4,917.7 293.9,917.8 296.4,917.8 299.0,917.8 301.5,917.9 304.0,917.9 306.5,918.0 309.0,918.0 311.5,918.1 314.0,918.1 316.5,918.2 319.1,918.3 321.6,918.4 324.1,918.4 326.6,918.5 329.1,918.7 331.6,918.8 334.1,918.9 336.6,919.0 339.1,919.2 341.7,919.3 344.2,919.5 346.7,919.7 349.2,919.9 351.7,920.1 354.2,920.3 356.7,920.6 359.2,920.9 361.7,921.1 364.2,921.4 366.7,921.7 369.2,922.1 371.7,922.4 374.1,922.8 376.6,923.2 379.1,923.6 381.6,924.1 384.0,924.5 386.5,925.0 389.0,925.5 391.4,926.1 393.9,926.6 396.3,927.2 398.8,927.8 401.2,928.5 403.6,929.1 406.0,929.8 408.4,930.6 410.8,931.3 413.2,932.1 415.6,933.0 417.9,933.8 420.3,934.8 422.6,935.7 424.9,936.7 427.2,937.7 429.5,938.7 431.8,939.8 434.0,941.0 436.2,942.2 438.4,943.4 440.6,944.6 442.8,946.0 444.9,947.3 447.0,948.7 449.0,950.1 451.1,951.6 453.1,953.1 455.1,954.6 457.1,956.2 459.0,957.8 460.9,959.4 462.8,961.1 464.7,962.8 466.5,964.5 468.3,966.2 470.1,968.0 471.8,969.8 473.6,971.6 475.3,973.5 476.9,975.4 478.6,977.3 480.2,979.2 481.8,981.1 483.4,983.1 484.9,985.0 486.5,987.0 488.0,989.0 489.5,991.0 491.0,993.0 492.5,995.1 494.0,997.1 495.5,999.1 497.0,1001.1 498.5,1003.1 500.0,1005.2 501.5,1007.2 503.1,1009.2 504.6,1011.2 506.1,1013.1 507.7,1015.1 509.3,1017.0 510.9,1019.0 512.5,1020.9 514.2,1022.8 515.9,1024.7 517.6,1026.5 519.3,1028.3 521.1,1030.1 522.9,1031.9 524.7,1033.6 526.6,1035.3 528.5,1036.9 530.4,1038.5 532.4,1040.1 534.4,1041.6 536.4,1043.0 538.5,1044.4 540.7,1045.8 542.8,1047.1 545.0,1048.3 547.3,1049.4 549.5,1050.5 551.8,1051.5 554.1,1052.5 556.5,1053.4 558.8,1054.3 561.2,1055.1 563.6,1055.9 566.0,1056.6 568.4,1057.2 570.9,1057.8 573.3,1058.4 575.8,1058.9 578.3,1059.4 580.7,1059.8 583.2,1060.2 585.7,1060.6 588.2,1060.9 590.7,1061.1 593.2,1061.4 595.7,1061.6 598.2,1061.7 600.7,1061.9 603.2,1062.0 605.8,1062.1 608.3,1062.1 610.8,1062.1 613.3,1062.1 615.8,1062.1 618.3,1062.0 620.8,1062.0 623.3,1061.9 625.9,1061.7 628.4,1061.6 630.9,1061.4 633.4,1061.3 635.9,1061.1 638.4,1060.9 640.9,1060.6 643.4,1060.4 645.9,1060.2 648.4,1059.9 650.9,1059.7 653.4,1059.4 655.9,1059.1 658.4,1058.9 660.9,1058.6 663.4,1058.3 665.9,1058.0 668.4,1057.7 670.9,1057.4 673.4,1057.2 675.9,1056.9 678.4,1056.6 680.9,1056.4 683.4,1056.1 685.9,1055.9 688.4,1055.7 690.9,1055.4 693.4,1055.2 695.9,1055.0 698.4,1054.9 700.9,1054.7 703.4,1054.6 706.0,1054.4 708.5,1054.3 711.0,1054.2 713.5,1054.2 716.0,1054.1 718.5,1054.1 721.0,1054.0 723.5,1054.0 726.1,1054.0 728.6,1054.0 731.1,1054.0 733.6,1054.0 736.1,1054.0 738.6,1054.0 741.1,1054.0 743.7,1054.1 746.2,1054.1 748.7,1054.2 751.2,1054.2 753.7,1054.2 756.2,1054.3 758.7,1054.3 761.2,1054.4 763.8,1054.4 766.3,1054.5 768.8,1054.5 771.3,1054.5 773.8,1054.6 776.3,1054.6 778.8,1054.6 781.4,1054.6 783.9,1054.6 786.4,1054.6 788.9,1054.6 791.4,1054.6 793.9,1054.6 796.4,1054.5 798.9,1054.5 801.5,1054.4 804.0,1054.3 806.5,1054.2 809.0,1054.1"/>
</g>
<g clip-path="url(#ca)" fill="none" stroke-width="4.5" stroke-linejoin="round" stroke-linecap="round">
<path stroke="#A94A12" d="M113.2,511.0 117.9,502.6 123.9,509.3 130.2,503.3 134.5,524.5 139.3,498.3 146.8,508.8 151.3,488.2 155.9,512.4 163.5,502.7 170.0,513.8 175.5,493.4 181.5,507.4 188.1,494.3 193.3,509.1 198.0,502.0 205.1,507.1 211.7,499.6 217.7,521.5 224.9,491.7 231.0,515.3 238.8,499.2 243.7,508.7 249.9,498.1 255.8,524.3 261.3,490.0 267.6,507.7 272.7,495.0 279.8,506.9 287.1,483.9 291.8,503.5 297.6,498.3 302.8,507.3 307.3,496.1 314.8,511.8 320.5,490.2 325.2,508.2 331.9,490.7 336.8,509.3 344.2,488.8 349.2,511.3 353.5,495.3 358.5,507.4 363.9,494.6 369.8,504.3 377.3,485.4 384.0,506.1 389.4,482.0 393.6,492.4 398.4,481.1 406.2,485.6 412.1,465.2 418.8,477.5 423.1,466.1 427.5,473.2 434.7,455.2 440.0,453.7 445.7,429.7 452.5,420.2 458.1,387.9 462.8,381.7 469.1,344.2 473.6,332.0 480.2,292.0 487.3,250.4 494.5,175.0 495.5,151.3 498.8,132.5 502.2,149.9 505.1,122.4 507.5,128.0 510.2,109.0 513.0,125.0 516.2,131.2 523.0,50.1 526.3,125.8 529.0,124.5 531.0,141.9 533.0,153.9 538.4,156.6 540.4,172.7 543.1,172.7 543.5,200.0 547.3,225.2 549.8,247.8 553.6,262.9 556.1,288.1 558.6,308.2 562.4,325.8 564.9,350.0 567.1,355.2 569.6,372.8 573.4,386.6 577.1,385.3 579.7,405.5 582.2,411.8 586.0,434.4 588.5,445.7 592.2,449.5 597.3,459.6 602.3,468.4 604.8,478.0 609.4,480.2 615.3,495.0 621.3,489.1 627.2,500.9 634.6,498.0 637.5,503.9 641.5,520.4 646.9,511.9 653.0,520.8 657.3,510.4 662.1,515.7 669.2,508.8 676.2,517.9 682.7,509.7 690.1,520.0 697.1,511.1 702.3,521.7 708.9,508.7 714.3,516.7 721.2,507.1 726.8,514.4 731.5,503.0 738.9,516.8 745.6,507.4 752.4,510.5 758.7,507.4 765.7,515.7 771.5,495.6 777.7,509.5 782.2,500.3 788.4,512.3 795.5,505.5 802.2,511.0 809.3,504.5"/>
<path stroke="#2D4599" d="M113.2,499.4 118.3,521.0 125.9,496.9 130.8,516.0 135.6,503.0 141.1,515.5 146.1,499.1 152.7,511.2 157.4,497.3 164.8,512.7 172.1,499.5 176.3,512.7 182.4,494.9 187.0,520.9 192.1,502.5 197.8,514.3 203.7,490.0 209.6,514.7 217.1,493.9 222.2,508.3 227.1,494.2 233.7,517.7 241.3,501.1 248.9,506.6 256.2,499.2 260.7,504.7 268.2,488.3 274.8,509.4 282.1,493.3 287.8,503.7 292.8,491.3 299.8,509.1 306.4,491.8 313.4,507.9 318.3,494.5 323.0,503.7 330.0,489.5 334.2,504.9 341.8,493.0 346.5,502.1 352.9,496.3 358.6,506.7 364.0,488.1 368.8,503.5 375.8,487.3 383.3,504.2 390.1,485.3 396.5,497.2 403.2,476.3 409.3,485.1 415.6,472.6 423.0,473.8 428.2,464.3 433.2,470.2 440.0,457.5 445.9,429.5 453.0,422.6 460.1,382.4 465.4,373.4 470.4,337.3 478.2,310.5 484.1,266.6 489.8,228.1 494.8,200.0 498.0,185.0 502.8,160.6 507.5,123.1 510.2,155.3 512.6,112.4 516.2,133.8 519.6,127.8 523.0,136.5 528.3,125.8 531.0,147.2 533.0,151.3 535.7,180.7 538.4,180.7 541.7,200.0 545.5,225.2 548.0,247.8 551.8,262.9 554.3,288.1 556.8,308.2 560.6,325.8 563.1,350.0 565.3,355.2 567.8,372.8 571.6,386.6 575.3,385.3 577.9,405.5 580.4,411.8 584.2,434.4 586.7,445.7 590.4,449.5 595.5,459.6 600.5,468.4 603.0,478.0 607.6,480.2 613.5,495.0 619.5,489.1 625.4,500.9 632.8,498.0 635.7,503.9 639.7,511.5 645.1,520.1 650.8,508.4 655.2,521.6 660.8,511.6 668.1,520.1 672.4,510.6 678.9,516.2 685.6,510.7 690.6,520.6 695.9,508.9 700.7,516.9 707.0,501.0 712.5,519.0 717.2,504.9 722.4,512.7 727.5,498.0 735.2,515.9 741.6,502.9 747.6,520.4 753.5,497.4 759.8,515.8 767.5,503.2 773.1,510.3 777.5,502.5 782.4,509.3 786.6,504.3 791.5,512.6 797.9,504.2 803.0,513.5 810.2,500.1"/>
<path stroke="#22A3DE" d="M113.2,501.3 120.5,512.1 127.8,497.7 134.9,508.6 140.1,498.6 144.5,511.2 152.1,503.7 158.5,510.9 162.8,499.9 170.2,515.9 178.0,503.0 183.2,515.5 190.3,495.0 194.8,512.3 200.6,501.6 207.8,513.9 213.4,501.5 219.5,509.1 224.1,496.4 231.2,509.6 237.2,497.7 242.3,507.9 249.3,501.0 257.1,507.6 263.2,492.9 270.0,511.3 277.8,499.2 282.1,513.0 288.5,496.3 296.2,506.4 300.8,482.4 305.8,510.0 312.0,494.2 318.8,506.8 325.0,490.0 331.1,505.1 335.5,490.8 342.4,513.9 347.7,490.7 352.2,504.9 359.9,484.7 366.4,507.3 372.3,492.6 379.1,504.4 385.0,487.8 389.7,503.5 396.1,482.5 402.9,492.8 409.8,464.9 416.0,484.8 423.5,467.1 431.2,472.9 440.0,456.0 445.6,431.2 451.4,424.4 458.4,390.2 462.9,378.6 467.3,351.2 474.9,323.4 480.8,280.7 487.6,241.5 490.1,218.9 494.0,190.0 498.2,152.6 500.8,187.5 505.5,166.0 508.5,172.0 511.6,178.0 514.9,141.9 518.9,188.8 522.3,148.6 526.3,174.0 527.9,205.0 530.4,192.0 532.9,212.6 537.9,237.7 540.4,240.3 543.0,269.2 546.7,273.0 550.5,300.6 554.3,313.2 556.5,330.0 558.0,338.4 560.3,355.2 562.8,374.0 565.3,400.4 570.3,403.0 575.3,413.0 577.9,435.7 581.6,447.0 585.4,450.8 590.4,463.3 595.5,474.7 600.5,480.0 604.7,486.2 612.1,493.5 619.5,498.0 623.9,499.5 627.9,522.1 632.4,507.0 638.9,519.8 645.5,507.2 651.6,517.1 655.8,509.4 662.5,519.9 668.2,508.8 675.8,518.7 683.6,507.2 690.1,520.7 694.7,506.2 700.0,515.9 706.5,510.7 713.8,515.1 719.6,505.3 725.1,514.3 731.4,504.6 738.7,515.1 743.6,502.2 750.0,511.4 756.4,502.6 762.3,510.3 767.8,503.2 775.4,512.8 782.5,505.1 787.3,510.5 791.5,501.3 796.6,511.6 802.4,505.0 807.1,511.1"/>
<path stroke="#66BC32" d="M113.2,502.6 120.4,508.6 125.9,498.5 132.6,512.5 139.9,502.6 146.4,513.5 152.6,501.8 159.5,513.2 166.3,499.8 172.2,513.7 178.5,492.0 185.4,507.5 189.8,497.4 196.3,509.7 203.2,497.9 208.8,511.0 214.8,502.3 219.8,507.3 226.4,496.2 234.1,505.1 239.4,501.2 245.2,511.5 252.6,492.1 258.8,507.8 264.5,497.6 271.1,507.3 275.5,493.8 280.2,504.5 287.5,498.3 292.3,504.7 296.6,496.1 304.2,504.9 311.1,494.1 318.8,507.5 325.7,493.3 333.2,504.5 338.7,492.7 345.6,501.8 350.4,495.2 357.6,505.6 364.4,494.3 369.3,500.8 374.1,494.2 378.9,501.5 386.1,488.8 392.7,492.2 397.9,484.3 404.5,484.8 411.1,476.4 417.8,477.7 425.6,467.0 432.8,470.4 440.0,452.0 446.0,436.0 450.6,420.0 455.1,405.8 461.1,384.7 461.5,365.1 467.0,368.0 471.7,354.6 470.2,339.5 474.7,324.4 480.7,297.3 479.2,271.7 484.0,268.0 486.7,255.0 491.3,252.0 495.2,245.3 498.8,202.4 502.5,241.8 506.2,181.5 511.1,207.3 514.8,246.7 518.5,236.9 523.4,219.7 528.4,246.7 532.1,256.6 535.4,294.3 539.2,298.1 543.0,317.0 545.5,319.5 549.2,350.0 550.2,355.2 554.0,370.3 557.7,392.9 562.8,408.0 566.5,408.0 567.8,425.6 571.6,443.2 576.6,443.2 579.1,462.1 584.2,470.9 587.9,474.7 589.9,480.2 597.3,486.2 601.7,492.1 607.6,495.0 612.1,500.9 616.1,513.5 621.5,509.6 629.3,517.9 636.8,507.2 641.1,514.7 646.5,511.6 653.6,516.6 660.9,507.8 666.2,515.7 672.8,506.7 679.7,523.7 685.4,509.9 690.0,518.3 697.0,507.8 703.8,518.7 710.1,509.8 717.1,518.3 724.8,505.7 729.8,513.6 734.1,508.4 740.5,515.0 745.4,503.6 752.7,514.5 759.7,502.9 765.6,509.7 772.6,501.5 780.2,511.3 787.0,504.1 792.1,513.4 798.0,502.7 802.5,511.0 809.0,505.4"/>
<path stroke="#F4CD00" d="M113.2,509.5 119.9,498.4 127.0,512.9 132.5,501.9 136.8,511.6 143.1,498.7 147.8,513.4 154.6,501.1 160.0,507.9 165.9,502.3 173.6,509.0 180.6,503.5 187.9,511.0 194.1,502.4 201.6,509.3 205.9,496.9 213.3,508.7 218.9,501.9 223.9,508.3 230.1,501.0 237.7,506.2 243.1,500.4 250.5,506.2 256.4,498.3 264.1,507.5 271.1,496.3 278.1,508.6 283.6,500.0 289.9,505.6 295.0,495.7 302.1,505.3 307.2,495.0 313.8,503.1 318.3,492.9 323.4,508.2 328.9,493.2 333.7,505.0 338.8,492.8 343.7,505.2 348.1,492.1 353.5,506.7 359.4,495.4 365.1,503.0 372.6,492.4 377.1,498.7 383.5,488.7 389.0,498.7 393.3,487.2 400.3,488.1 406.0,476.9 413.7,481.5 420.7,466.4 428.0,473.1 434.2,458.9 437.9,447.0 441.0,441.0 444.0,434.0 447.5,430.0 451.4,420.6 456.4,404.6 461.3,387.4 466.5,367.8 469.0,352.7 472.8,369.1 475.3,347.7 477.5,335.8 480.1,324.5 482.6,333.3 485.7,304.4 488.2,322.0 491.4,310.7 493.3,335.8 497.0,262.9 500.2,298.1 504.6,275.5 509.0,288.1 512.8,317.0 515.3,310.7 519.1,335.8 523.5,301.9 527.0,332.0 530.1,347.6 533.8,352.6 535.1,377.8 538.2,356.4 542.6,397.9 547.0,385.3 551.4,415.5 556.5,428.1 560.0,432.0 564.0,450.8 569.1,455.8 572.8,465.8 577.9,467.1 581.6,480.0 582.5,486.2 588.4,486.2 592.9,493.5 600.2,495.0 603.2,500.9 607.2,507.5 612.7,514.9 618.9,508.4 623.6,519.0 631.2,508.4 636.6,519.0 644.2,510.0 649.0,519.7 654.4,507.7 660.9,515.9 667.1,509.4 674.3,518.5 678.8,509.6 684.6,519.5 690.7,509.9 696.8,519.2 703.1,507.2 708.7,517.4 716.4,509.7 721.3,514.4 726.7,507.9 732.5,517.0 740.1,503.9 745.2,510.8 750.3,502.9 756.4,513.7 762.5,502.4 768.4,511.5 774.5,506.1 781.6,511.9 788.6,501.5 796.0,513.9 801.5,503.1 808.1,508.4"/>
<path stroke="#FB3B62" d="M113.2,500.6 119.4,506.6 125.2,494.1 129.7,508.8 135.2,504.0 141.6,512.4 145.9,500.0 153.2,509.5 160.5,499.7 164.9,511.1 172.0,500.2 176.8,508.4 183.5,502.2 188.3,510.1 195.0,503.1 202.6,507.2 210.4,502.6 217.0,508.4 221.8,499.7 227.4,508.2 232.6,498.3 240.2,510.2 245.5,501.6 251.7,504.9 257.4,497.0 262.1,505.4 267.7,497.1 274.6,503.2 280.3,499.6 287.0,507.6 293.3,497.5 297.7,502.8 304.6,494.2 311.2,503.0 318.3,497.8 323.0,504.5 330.7,495.5 338.1,501.2 345.5,494.3 353.2,503.7 359.6,491.5 365.1,501.1 369.6,492.1 378.6,516.0 385.0,500.0 392.0,495.0 400.0,494.0 408.2,491.4 415.0,484.0 422.0,478.0 428.0,468.0 433.0,451.4 437.9,460.0 444.0,437.9 450.1,432.0 455.2,429.4 460.2,428.2 464.0,401.8 467.7,395.5 472.8,395.5 476.5,385.4 480.3,374.1 482.8,367.8 486.0,371.6 489.7,361.5 492.9,362.8 496.0,357.7 501.7,355.2 505.5,362.8 509.2,366.5 513.0,385.4 516.8,389.2 520.6,394.2 525.0,397.9 528.8,396.7 533.8,415.5 537.6,419.3 543.9,440.7 550.2,450.8 555.2,454.5 561.5,468.4 566.5,480.0 572.2,489.1 576.6,487.6 584.0,500.9 591.4,505.4 598.0,500.0 605.0,508.0 612.1,517.2 616.1,509.8 622.9,515.0 630.5,510.6 636.6,516.3 642.0,508.9 649.8,515.2 655.5,508.6 661.0,516.8 667.7,511.1 673.7,516.1 678.2,512.0 682.5,516.8 688.8,509.5 694.5,518.2 701.1,507.9 706.3,518.5 712.8,508.2 720.3,515.7 724.8,509.8 729.9,519.8 737.3,508.0 743.9,511.3 748.7,507.4 755.0,510.8 761.8,507.5 767.9,510.4 773.7,501.2 777.9,510.7 782.8,504.7 789.8,508.8 795.7,503.7 801.4,508.8 809.0,504.1"/>
<path stroke="#E20A14" d="M113.2,504.4 120.4,508.2 125.2,503.6 131.4,508.3 137.0,501.1 141.9,509.5 147.5,500.5 153.3,509.1 159.7,499.7 166.5,508.2 170.8,501.3 175.9,509.0 182.3,504.1 186.8,507.4 194.5,503.6 201.7,507.3 206.1,503.9 212.3,507.3 218.7,501.5 222.9,508.9 227.8,498.5 232.6,507.2 238.4,499.1 244.7,507.1 250.5,500.7 258.0,504.6 265.2,498.7 270.8,511.0 275.7,497.4 281.2,506.3 288.5,496.2 294.0,505.5 301.7,498.5 308.0,504.1 313.0,496.8 319.6,501.4 326.2,497.5 332.2,502.9 337.4,498.7 343.9,503.5 349.8,492.3 356.4,500.2 362.5,495.9 370.0,496.4 374.9,503.7 381.1,491.4 387.2,496.4 393.4,487.7 399.6,490.2 405.7,477.9 410.6,484.0 416.8,480.3 423.0,475.4 429.1,466.8 434.0,469.3 438.8,457.1 443.8,447.0 448.9,452.1 453.3,440.8 458.3,439.5 462.7,430.7 467.7,410.6 471.5,418.1 475.9,425.7 480.3,401.8 485.3,399.2 488.5,403.0 491.6,398.0 497.3,411.8 501.1,401.8 506.1,396.7 510.5,408.0 513.0,419.4 518.1,413.1 521.8,425.7 525.6,433.2 531.3,431.9 535.1,447.0 542.6,449.5 546.4,455.8 550.2,470.9 557.7,475.9 560.3,480.0 563.3,489.1 567.7,481.7 576.6,500.9 581.0,492.1 588.4,492.1 594.3,499.5 601.7,505.4 609.1,505.4 616.5,508.3 625.4,518.7 631.3,509.8 638.7,515.7 644.6,509.8 652.0,518.7 659.4,503.9 665.3,515.7 670.0,514.2 674.0,507.4 679.6,518.7 684.2,507.4 688.5,515.0 695.9,509.8 701.5,515.0 708.8,509.9 716.0,512.8 722.3,506.1 729.6,514.0 737.2,504.2 743.7,511.1 747.9,508.1 754.4,514.2 760.4,504.1 767.4,512.5 772.9,504.2 779.6,513.2 785.1,503.8 791.4,511.2 797.3,505.8 802.2,509.1 807.6,503.9"/>
</g>
<g font-size="33.6" fill="#000" text-anchor="end">
<text x="97.6" y="517.0">0.0</text>
<text x="97.6" y="416.9">0.1</text>
<text x="97.6" y="316.9">0.2</text>
<text x="97.6" y="216.8">0.3</text>
<text x="97.6" y="116.8">0.4</text>
<text x="97.6" y="1065.3">0</text>
<text x="97.6" y="975.4">5</text>
<text x="97.6" y="885.5">10</text>
<text x="97.6" y="795.6">15</text>
<text x="97.6" y="705.7">20</text>
<text x="97.6" y="615.8">25</text>
</g>
<g font-size="33.6" fill="#000" text-anchor="middle">
<text x="157.45" y="1133.8">42</text>
<text x="244.45" y="1133.8">44</text>
<text x="331.45" y="1133.8">46</text>
<text x="418.45" y="1133.8">48</text>
<text x="505.45" y="1133.8">50</text>
<text x="592.45" y="1133.8">52</text>
<text x="679.45" y="1133.8">54</text>
<text x="766.45" y="1133.8">56</text>
</g>
<text x="461.15" y="1185.4" font-size="33.6" text-anchor="middle"><tspan font-style="italic">T</tspan> (K)</text>
<text transform="translate(30,278.8) rotate(-90)" font-size="33.6" text-anchor="middle"><tspan font-style="italic">J</tspan> (pA mm<tspan font-size="25" dy="-12.5">−2</tspan><tspan dy="12.5">)</tspan></text>
<text transform="translate(30.9,821.0) rotate(-90)" font-size="33" text-anchor="middle"><tspan font-style="italic">P</tspan> (μC m<tspan font-size="25" dy="-12.5">−2</tspan><tspan dy="12.5">)</tspan></text>
<text x="1.5" y="22.8" font-size="42" font-weight="bold">a</text>
<text x="1.6" y="597.5" font-size="42" font-weight="bold">b</text>
<path d="M639.5 84.3H716.7" stroke="#A94A12" stroke-width="4.6" stroke-linecap="round"/>
<text x="731.3" y="93.3" font-size="29.5">0 T</text>
<path d="M639.5 125.6H716.7" stroke="#2D4599" stroke-width="4.6" stroke-linecap="round"/>
<text x="731.3" y="134.6" font-size="29.5">1 T</text>
<path d="M639.5 168.4H716.7" stroke="#22A3DE" stroke-width="4.6" stroke-linecap="round"/>
<text x="731.3" y="177.4" font-size="29.5">3 T</text>
<path d="M639.5 211.1H716.7" stroke="#66BC32" stroke-width="4.6" stroke-linecap="round"/>
<text x="731.3" y="220.1" font-size="29.5">5 T</text>
<path d="M639.5 253.9H716.7" stroke="#F4CD00" stroke-width="4.6" stroke-linecap="round"/>
<text x="731.3" y="262.9" font-size="29.5">7 T</text>
<path d="M639.5 296.8H716.7" stroke="#FB3B62" stroke-width="4.6" stroke-linecap="round"/>
<text x="731.3" y="305.8" font-size="29.5">9 T</text>
<path d="M639.5 340.7H716.7" stroke="#E20A14" stroke-width="4.6" stroke-linecap="round"/>
<text x="731.3" y="349.7" font-size="29.5">11 T</text>
<path d="M620.6 670.3H697.8" stroke="#A94A12" stroke-width="4.6" stroke-linecap="round"/>
<text x="712.2" y="679.3" font-size="29.5">0 T</text>
<path d="M620.6 714.9H697.8" stroke="#2D4599" stroke-width="4.6" stroke-linecap="round"/>
<text x="712.2" y="723.9" font-size="29.5">1 T</text>
<path d="M620.6 757.5H697.8" stroke="#22A3DE" stroke-width="4.6" stroke-linecap="round"/>
<text x="712.2" y="766.5" font-size="29.5">3 T</text>
<path d="M620.6 800.4H697.8" stroke="#66BC32" stroke-width="4.6" stroke-linecap="round"/>
<text x="712.2" y="809.4" font-size="29.5">5 T</text>
<path d="M620.6 842.8H697.8" stroke="#F4CD00" stroke-width="4.6" stroke-linecap="round"/>
<text x="712.2" y="851.8" font-size="29.5">7 T</text>
<path d="M620.6 885.4H697.8" stroke="#FB3B62" stroke-width="4.6" stroke-linecap="round"/>
<text x="712.2" y="894.4" font-size="29.5">9 T</text>
<path d="M620.6 926.7H697.8" stroke="#E20A14" stroke-width="4.6" stroke-linecap="round"/>
<text x="712.2" y="935.7" font-size="29.5">11 T</text>
<rect x="201.7" y="209.2" width="116.5" height="62.6" fill="#C1C1C1"/>
<rect x="201.7" y="219.7" width="116" height="43.1" fill="#6A368F"/>
<rect x="253.7" y="229.4" width="6.6" height="13.6" fill="#C6C6C6" stroke="#000" stroke-width="1"/>
<path d="M252.95 243.5V186M252.1 243.5H345" stroke="#000" stroke-width="1.8" fill="none"/>
<path d="M252.95 171.2L248.5 186.9H257.5Z M360.5 243.6L344.2 239.4V248.1Z" fill="#000" stroke="#000" stroke-width="0.8" stroke-linejoin="round"/>
<text x="266.3" y="177.4" font-size="29.5" font-style="italic">E</text>
<text x="346.3" y="227.5" font-size="29.5" font-style="italic">H</text>
<text x="219.8" y="306.3" font-size="29.5">Sample</text>
<text x="206" y="371.4" font-size="29"><tspan font-style="italic">E</tspan> = 0.4 MV m<tspan font-size="24" dy="-12">−1</tspan></text>
</svg></body></html>
